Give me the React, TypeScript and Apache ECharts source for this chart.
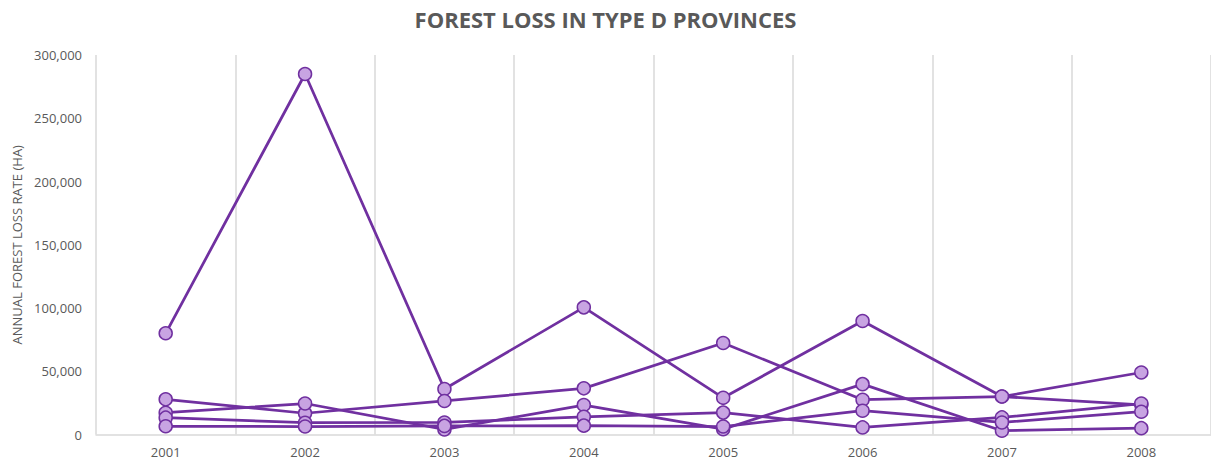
import React, { useEffect, useRef } from "react";
import * as echarts from "echarts";

const title = "FOREST LOSS IN TYPE D PROVINCES";
const yAxisName = "ANNUAL FOREST LOSS RATE (HA)";
const years = ["2001", "2002", "2003", "2004", "2005", "2006", "2007", "2008"];

const provinceA = [80000, 285000, 36000, 100500, 29000, 89700, 30000, 49000];
const provinceB = [27800, 16800, 26500, 36500, 72300, 27500, 30000, 23500];
const provinceC = [17200, 24500, 4000, 23300, 4200, 39800, 3000, 5000];
const provinceD = [13300, 9300, 9500, 14000, 17300, 5600, 13500, 24500];
const provinceE = [6500, 6300, 6800, 7000, 6300, 18800, 9500, 18000];

const seriesList = [provinceA, provinceB, provinceC, provinceD, provinceE];

const LINE = "#7030A0";
const FILL = "#C8A4E2";
const TEXT = "#595959";
const GRID = "#D9D9D9";

export default function App() {
  const ref = useRef<HTMLDivElement>(null);
  useEffect(() => {
    if (!ref.current) return;
    const chart = echarts.init(ref.current, null, { renderer: "svg" });
    chart.setOption({
      animation: false,
      backgroundColor: "#ffffff",
      title: {
        text: title,
        left: "center",
        top: 3,
        textStyle: {
          color: TEXT,
          fontFamily: "Open Sans",
          fontWeight: "bold",
          fontSize: 22,
        },
      },
      grid: { left: 96, right: 0, top: 55, bottom: 28.5, containLabel: false },
      xAxis: {
        type: "category",
        data: years,
        boundaryGap: true,
        axisLine: { show: true, lineStyle: { color: GRID, width: 1.5 } },
        axisTick: { show: false },
        axisLabel: {
          color: TEXT,
          fontFamily: "Open Sans",
          fontSize: 13,
          margin: 11,
        },
        splitLine: { show: true, lineStyle: { color: GRID, width: 1.5 } },
      },
      yAxis: {
        type: "value",
        min: 0,
        max: 300000,
        interval: 50000,
        name: yAxisName,
        nameLocation: "middle",
        nameGap: 73,
        nameTextStyle: { color: TEXT, fontFamily: "Open Sans", fontSize: 13 },
        axisLine: { show: false },
        axisTick: { show: false },
        splitLine: { show: false },
        axisLabel: {
          color: TEXT,
          fontFamily: "Open Sans",
          fontSize: 13,
          margin: 14,
          formatter: (v: number) => v.toLocaleString("en-US"),
        },
      },
      series: seriesList.map((d, i) => ({
        name: "Province " + (i + 1),
        type: "line",
        data: d,
        symbol: "circle",
        symbolSize: 13,
        lineStyle: { color: LINE, width: 2.75 },
        itemStyle: { color: FILL, borderColor: LINE, borderWidth: 1.5 },
        z: 2,
      })),
    });
    return () => chart.dispose();
  }, []);
  return (
    <div
      ref={ref}
      style={{ position: "fixed", left: 0, top: 0, width: 1211, height: 463 }}
    />
  );
}
